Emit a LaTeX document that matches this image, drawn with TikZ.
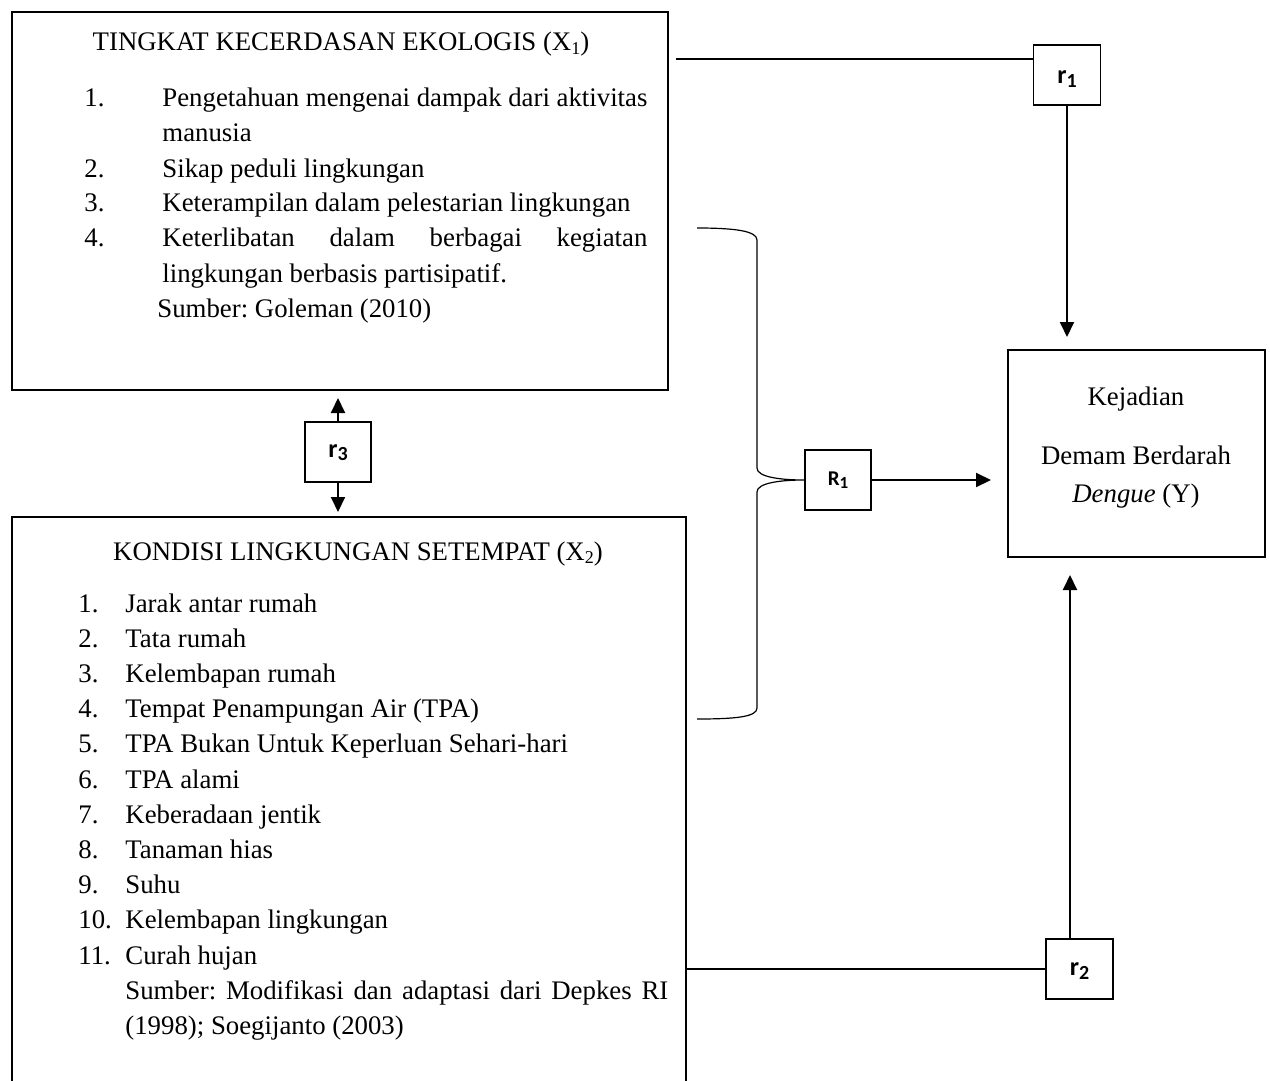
\documentclass[tikz,border=0pt]{standalone}
\usepackage{fontspec}
\setmainfont{Liberation Serif}
\newfontfamily\calfont{Carlito}
\usetikzlibrary{arrows.meta}
\newcommand\mysub[2]{\raisebox{-0.3ex}{\fontsize{#1}{#1}\selectfont #2}}
\newcommand\rlab[2]{\raisebox{-#1}[0pt][0pt]{#2}}
\frenchspacing
\begin{document}
\begin{tikzpicture}[x=0.5pt,y=-0.5pt,
  box/.style={draw, line width=1pt, inner sep=0pt},
  rbox/.style={draw, line width=0.6pt, fill=white, inner sep=0pt,
    minimum width=33.5pt, minimum height=30pt,
    font=\calfont\bfseries\fontsize{13}{15}\selectfont},
  txt/.style={anchor=base west, inner sep=0pt, font=\fontsize{13.4}{16}\selectfont},
  ctxt/.style={anchor=base, inner sep=0pt, font=\fontsize{13.4}{16}\selectfont},
  conn/.style={line width=1pt},
  arr/.style={conn, -{Triangle[length=7.5pt,width=7pt]}},
  brace/.style={line width=0.6pt}]
\useasboundingbox (0,0) rectangle (1270,1081);
\clip (0,0) rectangle (1270,1081);
\fill[white] (0,0) rectangle (1270,1081);

% main boxes
\node[box, minimum width=328pt, minimum height=189pt] (x1) at (340,201) {};
\node[box, minimum width=337pt, minimum height=291.5pt] (x2) at (349,808.5) {};
\node[box, minimum width=128.5pt, minimum height=103.5pt] (y) at (1136.5,453.5) {};

% small boxes
\node[rbox] (r1) at (1067,75) {\rlab{4.5pt}{r\mysub{10}{1}}};
\node[rbox] (r2) at (1079.5,969) {\rlab{3.3pt}{r\mysub{10}{2}}};
\node[rbox, minimum width=33pt] (r3) at (338,452) {\rlab{2.6pt}{r\mysub{10}{3}}};
\node[rbox, minimum width=33pt, font=\calfont\bfseries\fontsize{10.5}{12}\selectfont] (R1) at (838,480) {R\mysub{8.5}{1}};

% X1 text
\node[ctxt] (x1t) at (341,51) {TINGKAT KECERDASAN EKOLOGIS (X\mysub{9}{1})};
\node[txt] (a1n) at (84,107) {1.};
\node[txt] (a1a) at (162,107) {\makebox[242.5pt][s]{Pengetahuan mengenai dampak dari aktivitas}};
\node[txt] (a1b) at (162,142) {manusia};
\node[txt] (a2n) at (84,177) {2.};
\node[txt] (a2a) at (162,177) {Sikap peduli lingkungan};
\node[txt] (a3n) at (84,212) {3.};
\node[txt] (a3a) at (162,212) {Keterampilan dalam pelestarian lingkungan};
\node[txt] (a4n) at (84,247) {4.};
\node[txt] (a4a) at (162,247) {\makebox[242.5pt][s]{Keterlibatan dalam berbagai kegiatan}};
\node[txt] (a4b) at (162,282) {lingkungan berbasis partisipatif.};
\node[txt] (a5) at (157,317) {Sumber: Goleman (2010)};

% X2 text
\node[ctxt] (x2t) at (358,560) {KONDISI LINGKUNGAN SETEMPAT (X\mysub{9}{2})};
\node[txt] (b1n) at (78,612) {1.};
\node[txt] (b1a) at (125,612) {Jarak antar rumah};
\node[txt] (b2n) at (78,647.2) {2.};
\node[txt] (b2a) at (125,647.2) {Tata rumah};
\node[txt] (b3n) at (78,682.4) {3.};
\node[txt] (b3a) at (125,682.4) {Kelembapan rumah};
\node[txt] (b4n) at (78,717.6) {4.};
\node[txt] (b4a) at (125,717.6) {Tempat Penampungan Air (TPA)};
\node[txt] (b5n) at (78,752.8) {5.};
\node[txt] (b5a) at (125,752.8) {TPA Bukan Untuk Keperluan Sehari-hari};
\node[txt] (b6n) at (78,788) {6.};
\node[txt] (b6a) at (125,788) {TPA alami};
\node[txt] (b7n) at (78,823.2) {7.};
\node[txt] (b7a) at (125,823.2) {Keberadaan jentik};
\node[txt] (b8n) at (78,858.4) {8.};
\node[txt] (b8a) at (125,858.4) {Tanaman hias};
\node[txt] (b9n) at (78,893.6) {9.};
\node[txt] (b9a) at (125,893.6) {Suhu};
\node[txt] (b10n) at (78,928.8) {10.};
\node[txt] (b10a) at (125,928.8) {Kelembapan lingkungan};
\node[txt] (b11n) at (78,964) {11.};
\node[txt] (b11a) at (125,964) {Curah hujan};
\node[txt] (b12a) at (125,999.2) {\makebox[271.5pt][s]{Sumber: Modifikasi dan adaptasi dari Depkes RI}};
\node[txt] (b12b) at (125,1034.4) {(1998); Soegijanto (2003)};

% Y text
\node[ctxt] (y1) at (1136,405) {Kejadian};
\node[ctxt] (y2) at (1136,464) {Demam Berdarah};
\node[ctxt] (y3) at (1136,502) {\textit{Dengue} (Y)};

% connectors
\coordinate (c1) at (676,59);
\draw[conn] (c1) -- (c1 -| r1.west);
\coordinate (yin1) at (1067,337);
\draw[arr] (r1.south) -- (yin1);

\draw[conn] (x2.east |- r2.west) -- (r2.west);
\coordinate (yin2) at (1070,575);
\draw[arr] (yin2 |- r2.north) -- (yin2);

\coordinate (u3) at (338,398);
\coordinate (d3) at (338,512);
\draw[arr] (r3.north) -- (u3);
\draw[arr] (r3.south) -- (d3);

\coordinate (yin3) at (991,480);
\draw[arr] (R1.east) -- (yin3);

% brace
\coordinate (k1) at (697,228);
\coordinate (k2) at (757,240);
\coordinate (k3) at (757,468);
\coordinate (k4) at (757,492);
\coordinate (k5) at (757,708);
\coordinate (k6) at (697,719);
\draw[brace] (k1) .. controls (735,228) and (757,231) .. (k2) -- (k3)
  .. controls (757,477) and (780,480) .. (R1.west)
  .. controls (780,480) and (757,483) .. (k4) -- (k5)
  .. controls (757,717) and (735,719) .. (k6);
\end{tikzpicture}
\end{document}
